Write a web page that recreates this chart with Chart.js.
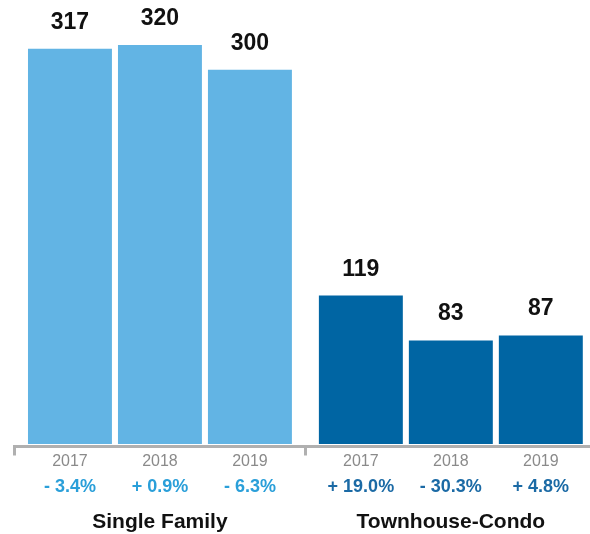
<!DOCTYPE html>
<html>
<head>
<meta charset="utf-8">
<script src="https://cdn.jsdelivr.net/npm/chart.js@4"></script>
<style>
  html, body { margin: 0; padding: 0; background: #fff; overflow: hidden; }
  #wrap { width: 600px; height: 534px; }
</style>
</head>
<body>
<div id="wrap"><canvas id="chart" width="600" height="534"></canvas></div>
<script>
// ── Data ─────────────────────────────────────────────
const categories     = ["Single Family", "Townhouse-Condo"];
const years          = ["2017", "2018", "2019"];
const singleFamily   = [317, 320, 300];
const townhouseCondo = [119, 83, 87];
const sfChange       = ["- 3.4%", "+ 0.9%", "- 6.3%"];
const tcChange       = ["+ 19.0%", "- 30.3%", "+ 4.8%"];

// ── Style ────────────────────────────────────────────
const BAR_COLORS  = ["#62b4e4", "#0065a3"];
const PCT_COLORS  = ["#2a9fd9", "#1b6aa5"];
const AXIS_COLOR  = "#b0b0b0";
const FONT        = "'Liberation Sans', Arial, Helvetica, sans-serif";

const datasets = years.map((yr, i) => ({
    label: yr,
    data: [singleFamily[i], townhouseCondo[i]],
    backgroundColor: BAR_COLORS,
    borderWidth: 0,
    categoryPercentage: 0.928,
    barPercentage: 0.933,
}));

// draws values above bars + year and change labels below
const labelPlugin = {
    id: "barLabels",
    afterDatasetsDraw(chart) {
        const ctx = chart.ctx;
        const changes = [sfChange, tcChange];
        const base = chart.chartArea.bottom;
        ctx.save();
        ctx.textAlign = "center";
        chart.data.datasets.forEach((ds, i) => {
            const meta = chart.getDatasetMeta(i);
            meta.data.forEach((bar, j) => {
                // value
                ctx.fillStyle = "#111";
                ctx.font = "bold 23px " + FONT;
                ctx.textBaseline = "alphabetic";
                ctx.fillText(String(ds.data[j]), bar.x, bar.y - 20);
                // year
                ctx.textBaseline = "middle";
                ctx.fillStyle = "#8a8a8a";
                ctx.font = "16px " + FONT;
                ctx.fillText(years[i], bar.x, base + 15);
                // change
                ctx.fillStyle = PCT_COLORS[j];
                ctx.font = "bold 18px " + FONT;
                ctx.fillText(changes[j][i], bar.x, base + 40.5);
            });
        });
        ctx.restore();
    }
};

new Chart(document.getElementById("chart").getContext("2d"), {
    type: "bar",
    data: { labels: categories, datasets: datasets },
    plugins: [labelPlugin],
    options: {
        responsive: false,
        animation: false,
        layout: { padding: { left: 14.5, right: 3.5, top: 0, bottom: 0 } },
        plugins: { legend: { display: false }, tooltip: { enabled: false } },
        scales: {
            y: { display: false, min: -2, max: 356 },
            x: {
                afterFit: (scale) => { scale.height = 87.5; },
                border: { display: true, color: AXIS_COLOR, width: 3 },
                grid: {
                    offset: true,
                    drawOnChartArea: false,
                    drawTicks: true,
                    tickLength: 9,
                    color: AXIS_COLOR,
                    lineWidth: 3,
                },
                ticks: {
                    color: "#111",
                    font: { family: FONT, size: 21, weight: "bold" },
                    padding: 54,
                },
            },
        },
    },
});
</script>
</body>
</html>
